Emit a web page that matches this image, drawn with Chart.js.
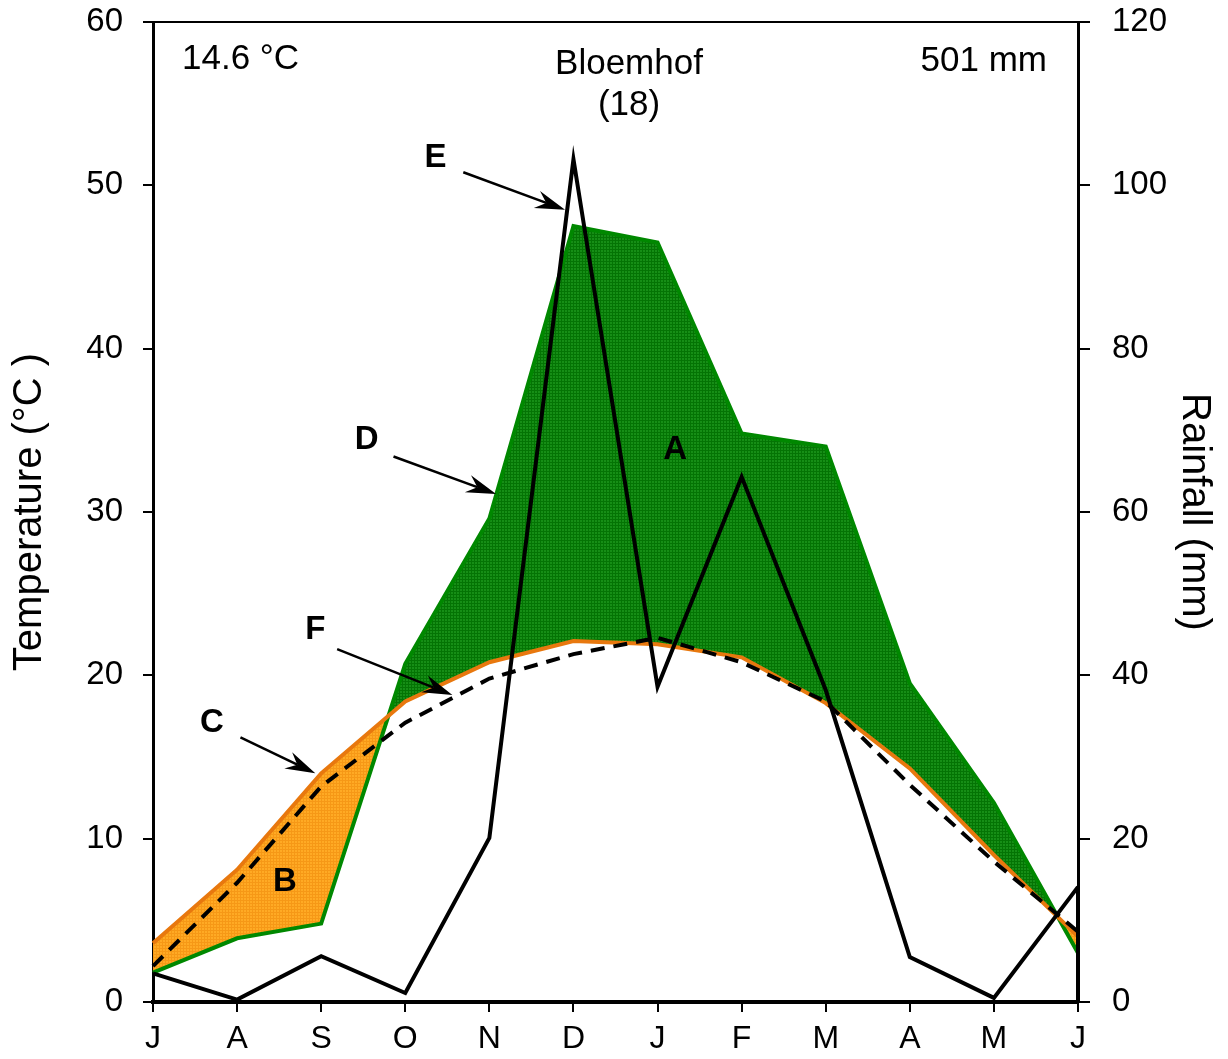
<!DOCTYPE html>
<html>
<head>
<meta charset="utf-8">
<title>Bloemhof</title>
<script src="https://cdn.jsdelivr.net/npm/chart.js@4.4.1/dist/chart.umd.min.js"></script>
<style>
  html, body { margin: 0; padding: 0; background: #fff; }
  #wrap { position: relative; width: 1228px; height: 1059px; }
</style>
</head>
<body>
<div id="wrap"><canvas id="climateChart"></canvas></div>
<script>
// 月份 (七月到隔年七月)
const months = ['J', 'A', 'S', 'O', 'N', 'D', 'J', 'F', 'M', 'A', 'M', 'J'];

// 曲線 C (橙色線, °C)
const curveC = [3.6, 8.1, 14.0, 18.4, 20.8, 22.1, 21.9, 21.1, 18.3, 14.3, 9.0, 4.0];
// 曲線 D (綠色線, °C)
const curveD = [1.8, 3.9, 4.8, 20.7, 29.6, 47.5, 46.5, 34.8, 34.0, 19.5, 12.2, 3.0];
// 曲線 F (黑色虛線, °C)
const curveF = [2.2, 7.3, 13.2, 17.1, 19.8, 21.3, 22.3, 20.8, 18.4, 13.3, 8.6, 4.3];
// 曲線 E 月雨量 (mm, 右軸)
const rainfall = [3.5, 0.3, 5.6, 1.1, 20.1, 103.2, 38.6, 64.3, 38.2, 5.5, 0.5, 14.1];

// 軸刻度
const tempTicks = [0, 10, 20, 30, 40, 50, 60];
const rainTicks = [0, 20, 40, 60, 80, 100, 120];

// 標題文字
const stationName = 'Bloemhof';
const stationCode = '(18)';
const meanTemp = '14.6 °C';
const annualRain = '501 mm';

const FONT = "'Liberation Sans', Arial, sans-serif";
Chart.defaults.font.family = FONT;
Chart.defaults.color = '#000';

// 網點填色 - 模仿印刷網格
function makePattern(base, dot) {
    const c = document.createElement('canvas');
    c.width = 3; c.height = 3;
    const g = c.getContext('2d');
    g.fillStyle = base;
    g.fillRect(0, 0, 3, 3);
    g.fillStyle = dot;
    g.fillRect(0, 0, 3, 1);
    g.fillRect(0, 0, 1, 3);
    return g.createPattern(c, 'repeat');
}
const greenFill = makePattern('rgb(22,142,22)', 'rgb(4,116,4)');
const orangeFill = makePattern('rgb(255,170,36)', 'rgb(246,152,22)');

// 字母標記和箭頭 (x 為月份索引, y 為溫度)
const letters = [
    { t: 'A', x: 6.21, y: 33.8 },
    { t: 'B', x: 1.57, y: 7.35 },
    { t: 'C', x: 0.70, y: 17.1 },
    { t: 'D', x: 2.54, y: 34.4 },
    { t: 'E', x: 3.36, y: 51.7 },
    { t: 'F', x: 1.93, y: 22.8 }
];
const arrows = [
    { x0: 1.04, y0: 16.2, x1: 1.93, y1: 14.0 },  // C
    { x0: 2.86, y0: 33.4, x1: 4.08, y1: 31.1 },  // D
    { x0: 3.69, y0: 50.8, x1: 4.90, y1: 48.5 },  // E
    { x0: 2.19, y0: 21.6, x1: 3.56, y1: 18.8 }   // F
];

function drawArrow(ctx, xa, ya, xb, yb) {
    const ang = Math.atan2(yb - ya, xb - xa);
    const len = 30, half = 9, notch = 20;
    ctx.beginPath();
    ctx.moveTo(xa, ya);
    ctx.lineTo(xb - Math.cos(ang) * notch, yb - Math.sin(ang) * notch);
    ctx.lineWidth = 2.5;
    ctx.stroke();
    const bx = xb - Math.cos(ang) * len, by = yb - Math.sin(ang) * len;
    const nx = -Math.sin(ang), ny = Math.cos(ang);
    ctx.beginPath();
    ctx.moveTo(xb, yb);
    ctx.lineTo(bx + nx * half, by + ny * half);
    ctx.lineTo(xb - Math.cos(ang) * notch, yb - Math.sin(ang) * notch);
    ctx.lineTo(bx - nx * half, by - ny * half);
    ctx.closePath();
    ctx.fill();
}

const notesPlugin = {
    id: 'notes',
    afterDatasetsDraw(chart) {
        const { ctx, chartArea: a, scales: { x, y, y2 } } = chart;
        ctx.save();
        ctx.strokeStyle = '#000';
        ctx.fillStyle = '#000';

        // 雨量曲線右端收回到零
        const last = rainfall.length - 1;
        ctx.lineWidth = 4;
        ctx.beginPath();
        ctx.moveTo(x.getPixelForValue(last), y2.getPixelForValue(rainfall[last]));
        ctx.lineTo(x.getPixelForValue(last), y2.getPixelForValue(0));
        ctx.stroke();

        // 上框線
        ctx.lineWidth = 2;
        ctx.beginPath();
        ctx.moveTo(a.left, a.top);
        ctx.lineTo(a.right, a.top);
        ctx.stroke();

        // 箭頭
        arrows.forEach(ar => {
            drawArrow(ctx, x.getPixelForValue(ar.x0), y.getPixelForValue(ar.y0),
                x.getPixelForValue(ar.x1), y.getPixelForValue(ar.y1));
        });

        // 字母
        ctx.font = 'bold 33px ' + FONT;
        ctx.textAlign = 'center';
        ctx.textBaseline = 'middle';
        letters.forEach(l => {
            ctx.fillText(l.t, x.getPixelForValue(l.x), y.getPixelForValue(l.y));
        });

        // 標題文字
        ctx.font = '35px ' + FONT;
        ctx.textAlign = 'left';
        ctx.fillText(meanTemp, a.left + 29, a.top + 37);
        ctx.textAlign = 'right';
        ctx.fillText(annualRain, a.right - 31, a.top + 39);
        ctx.textAlign = 'center';
        ctx.fillText(stationName, a.left + 476, a.top + 42);
        ctx.fillText(stationCode, a.left + 476, a.top + 83);
        ctx.restore();
    }
};

const axisGrid = { drawOnChartArea: false, drawTicks: true, tickLength: 10, color: '#000', lineWidth: 2 };

// 固定軸寬, 並取消刻度文字造成的上下留白
function fixVertical(width) {
    return s => {
        s.width = width;
        s.paddingTop = 0;
        s.paddingBottom = 0;
    };
}

const ctx = document.getElementById('climateChart').getContext('2d');
const chart = new Chart(ctx, {
    type: 'line',
    data: {
        labels: months,
        datasets: [
            {
                label: 'C',
                data: curveC,
                borderColor: '#e8780e',
                borderWidth: 4,
                pointRadius: 0,
                tension: 0,
                fill: false,
                order: 2,
                yAxisID: 'y'
            },
            {
                label: 'D',
                data: curveD,
                borderColor: '#008800',
                borderWidth: 4,
                pointRadius: 0,
                tension: 0,
                fill: { target: 0, above: greenFill, below: orangeFill },
                order: 3,
                yAxisID: 'y'
            },
            {
                label: 'F',
                data: curveF,
                borderColor: '#000',
                borderWidth: 4,
                borderDash: [14, 9],
                pointRadius: 0,
                tension: 0,
                fill: false,
                order: 1,
                yAxisID: 'y'
            },
            {
                label: 'E',
                data: rainfall,
                borderColor: '#000',
                borderWidth: 4,
                pointRadius: 0,
                tension: 0,
                fill: false,
                order: 0,
                yAxisID: 'y2'
            }
        ]
    },
    options: {
        responsive: true,
        maintainAspectRatio: false,
        animation: false,
        layout: { padding: { top: 22, left: 0, right: 0, bottom: 0 } },
        plugins: {
            legend: { display: false },
            tooltip: { enabled: false }
        },
        scales: {
            x: {
                offset: false,
                grid: axisGrid,
                border: { color: '#000', width: 4 },
                ticks: { font: { size: 32 }, padding: 8, maxRotation: 0, autoSkip: false },
                afterFit: s => { s.height = 57; }
            },
            y: {
                position: 'left',
                min: 0,
                max: 60,
                afterBuildTicks: s => { s.ticks = tempTicks.map(v => ({ value: v })); },
                grid: axisGrid,
                border: { color: '#000', width: 3 },
                ticks: { font: { size: 33 }, padding: 20 },
                title: { display: true, text: 'Temperature (°C )', font: { size: 40 }, padding: { top: 6, bottom: 0 } },
                afterFit: fixVertical(153)
            },
            y2: {
                position: 'right',
                min: 0,
                max: 120,
                afterBuildTicks: s => { s.ticks = rainTicks.map(v => ({ value: v })); },
                grid: { ...axisGrid, tickLength: 12 },
                border: { color: '#000', width: 3 },
                ticks: { font: { size: 33 }, padding: 22 },
                title: { display: true, text: 'Rainfall (mm)', font: { size: 40 }, padding: { top: 10, bottom: 0 } },
                afterFit: fixVertical(150)
            }
        }
    },
    plugins: [notesPlugin]
});
</script>
</body>
</html>
